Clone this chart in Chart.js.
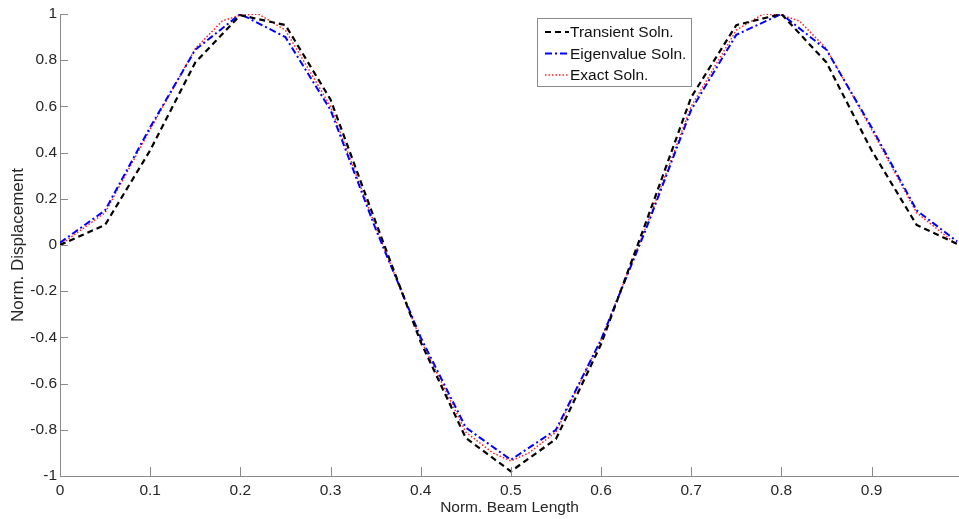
<!DOCTYPE html>
<html lang="en">
<head>
<meta charset="utf-8">
<style>
  html, body { margin: 0; padding: 0; background: #fff; }
  #wrap { width: 959px; height: 519px; position: relative; }
</style>
</head>
<body>
<div id="wrap"><canvas id="myChart"></canvas></div>
<script src="https://cdn.jsdelivr.net/npm/chart.js"></script>
<script>
// values
const xGrid = [0, 0.05, 0.1, 0.15, 0.2, 0.25, 0.3, 0.35, 0.4, 0.45, 0.5, 0.55, 0.6, 0.65, 0.7, 0.75, 0.8, 0.85, 0.9, 0.95, 0.995];
const transient = [0, 0.087, 0.41, 0.79, 0.995, 0.952, 0.63, 0.1, -0.42, -0.835, -0.98, -0.84, -0.43, 0.1, 0.64, 0.952, 1.0, 0.79, 0.41, 0.087, 0.005];
const eigen = [0.01, 0.15, 0.51, 0.845, 1.0, 0.9, 0.585, 0.07, -0.4, -0.79, -0.93, -0.8, -0.41, 0.07, 0.585, 0.91, 1.0, 0.845, 0.51, 0.15, 0.015];
const xExact = [0, 0.05, 0.1, 0.15, 0.18, 0.2, 0.22, 0.25, 0.3, 0.35, 0.4, 0.45, 0.48, 0.5, 0.52, 0.55, 0.6, 0.65, 0.7, 0.75, 0.78, 0.8, 0.82, 0.85, 0.9, 0.95, 0.995];
const exact = [0, 0.14, 0.5, 0.85, 0.97, 0.995, 1.0, 0.93, 0.6, 0.08, -0.41, -0.81, -0.9, -0.935, -0.9, -0.81, -0.41, 0.08, 0.6, 0.93, 1.0, 0.995, 0.97, 0.85, 0.5, 0.14, 0.0];
const xTicks = [0, 0.1, 0.2, 0.3, 0.4, 0.5, 0.6, 0.7, 0.8, 0.9];
const yTicks = [-1, -0.8, -0.6, -0.4, -0.2, 0, 0.2, 0.4, 0.6, 0.8, 1];

const pts = (xs, ys) => xs.map((x, i) => ({ x: x, y: ys[i] }));
const FONT = "'Liberation Sans', Arial, sans-serif";
const AXIS = '#8a8a8a';
const TXT = '#262626';

// MATLAB style: ticks point into the plot
const innerTicks = {
  id: 'innerTicks',
  afterDraw(chart) {
    const ctx = chart.ctx, a = chart.chartArea;
    const xs = chart.scales.x, ys = chart.scales.y;
    ctx.save();
    ctx.strokeStyle = AXIS;
    ctx.lineWidth = 1;
    ctx.beginPath();
    xTicks.forEach(v => {
      const px = Math.round(xs.getPixelForValue(v)) + 0.5;
      ctx.moveTo(px, a.bottom); ctx.lineTo(px, a.bottom - 9);
    });
    yTicks.forEach(v => {
      const py = Math.round(ys.getPixelForValue(v)) + 0.5;
      ctx.moveTo(a.left, py); ctx.lineTo(a.left + 8, py);
    });
    ctx.stroke();
    ctx.restore();
  }
};

// boxed legend in the upper middle
const boxLegend = {
  id: 'boxLegend',
  afterDraw(chart) {
    const ctx = chart.ctx;
    const x0 = 537, y0 = 18, w = 154, h = 68;
    ctx.save();
    ctx.fillStyle = '#fff';
    ctx.fillRect(x0, y0, w, h);
    ctx.strokeStyle = '#8a8a8a';
    ctx.lineWidth = 1;
    ctx.strokeRect(x0 + 0.5, y0 + 0.5, w, h);
    ctx.font = '15.5px ' + FONT;
    ctx.textBaseline = 'middle';
    chart.data.datasets.forEach((ds, i) => {
      const yy = y0 + 14 + i * 21.5;
      ctx.strokeStyle = ds.borderColor;
      ctx.lineWidth = ds.borderWidth;
      ctx.setLineDash(ds.borderDash || []);
      ctx.beginPath();
      ctx.moveTo(x0 + 8, yy); ctx.lineTo(x0 + 32, yy);
      ctx.stroke();
      ctx.setLineDash([]);
      ctx.fillStyle = '#111';
      ctx.fillText(ds.label, x0 + 33, yy + 1);
    });
    ctx.restore();
  }
};

const config = {
  type: 'line',
  data: {
    datasets: [
      { label: 'Transient Soln.', data: pts(xGrid, transient), borderColor: '#000', borderWidth: 2.2, borderDash: [6, 4] },
      { label: 'Eigenvalue Soln.', data: pts(xGrid, eigen), borderColor: '#0000ff', borderWidth: 2, borderDash: [7, 3, 2, 3] },
      { label: 'Exact Soln.', data: pts(xExact, exact), borderColor: '#ff2020', borderWidth: 1.5, borderDash: [1.5, 2] }
    ]
  },
  options: {
    responsive: true,
    maintainAspectRatio: false,
    animation: false,
    devicePixelRatio: 1,
    elements: { point: { radius: 0 }, line: { tension: 0, fill: false } },
    layout: { padding: { top: 14, right: 0, bottom: 0, left: 0 } },
    plugins: { legend: { display: false }, tooltip: { enabled: false } },
    scales: {
      x: {
        type: 'linear', min: 0, max: 0.997,
        afterBuildTicks: s => { s.ticks = xTicks.map(v => ({ value: v })); },
        afterFit: s => { s.height = 43; },
        grid: { drawOnChartArea: false, drawTicks: false },
        border: { display: true, color: AXIS, width: 1 },
        ticks: { padding: 5, color: TXT, font: { family: FONT, size: 15.5 }, maxRotation: 0, callback: v => String(v) },
        title: { display: true, text: 'Norm. Beam Length', color: TXT, font: { family: FONT, size: 15.5 }, padding: { top: 0, bottom: 2 } }
      },
      y: {
        min: -1, max: 1,
        afterBuildTicks: s => { s.ticks = yTicks.map(v => ({ value: v })); },
        afterFit: s => { s.width = 60; },
        grid: { drawOnChartArea: false, drawTicks: false },
        border: { display: true, color: AXIS, width: 1 },
        ticks: { padding: 3, color: TXT, font: { family: FONT, size: 15.5 }, callback: v => String(v) },
        title: { display: true, text: 'Norm. Displacement', color: TXT, font: { family: FONT, size: 17 }, padding: { top: 8, bottom: 0 } }
      }
    }
  },
  plugins: [innerTicks, boxLegend]
};

const myChart = new Chart(document.getElementById('myChart'), config);
</script>
</body>
</html>
